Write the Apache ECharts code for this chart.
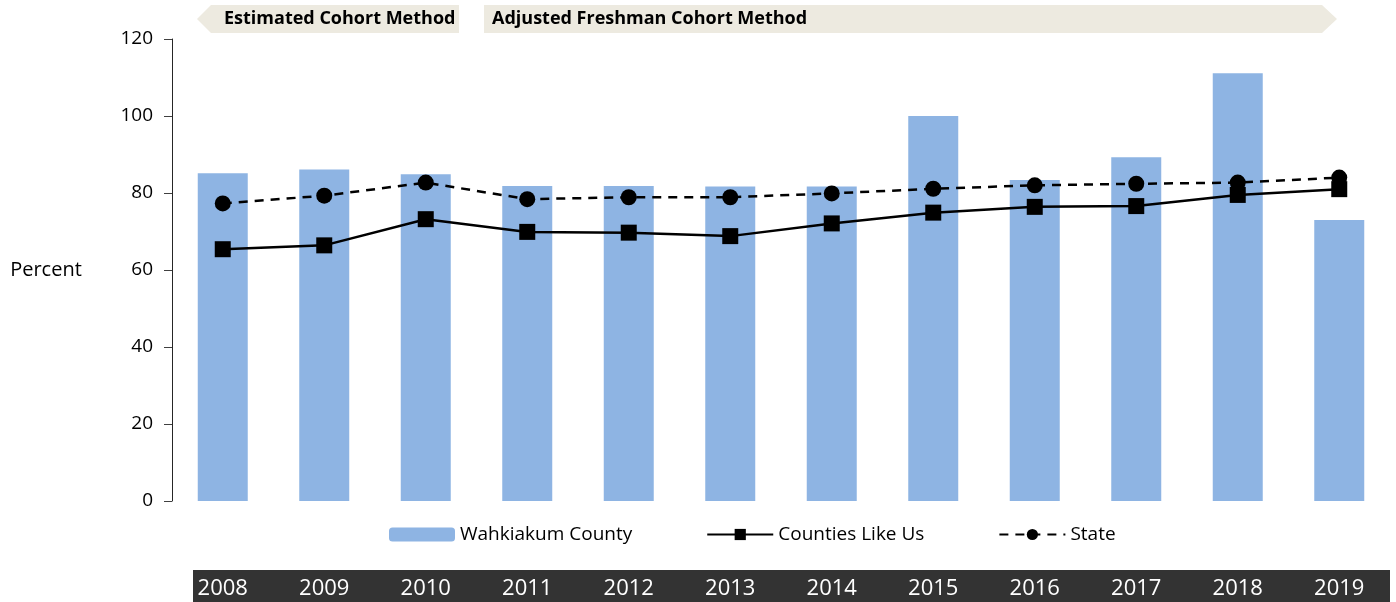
<!DOCTYPE html>
<html>
<head>
<meta charset="utf-8">
<script src="https://cdn.jsdelivr.net/npm/echarts@6/dist/echarts.min.js"></script>
<style>
  html, body { margin: 0; padding: 0; background: #fff; }
  #chart { width: 1396px; height: 602px; }
</style>
</head>
<body>
<div id="chart"></div>
<script>
var years = ["2008", "2009", "2010", "2011", "2012", "2013", "2014", "2015", "2016", "2017", "2018", "2019"];
var countyData = [85.1, 86.1, 84.9, 81.8, 81.8, 81.7, 81.7, 100, 83.4, 89.3, 111.1, 73];
var likeUsData = [65.4, 66.4, 73.2, 69.9, 69.7, 68.8, 72.1, 74.9, 76.4, 76.6, 79.5, 81.0];
var stateData = [77.3, 79.3, 82.7, 78.4, 78.9, 78.9, 79.9, 81.1, 82.0, 82.4, 82.7, 84.0];
var yTicks = [0, 20, 40, 60, 80, 100, 120];

var fontFam = "'Open Sans', 'Noto Sans', sans-serif";
var myChart = echarts.init(document.getElementById("chart"));

var option = {
  animation: false,
  textStyle: { fontFamily: fontFam },
  grid: { left: 172, right: 6, top: 39, bottom: 101 },
  legend: {
    top: 520,
    left: 384,
    itemWidth: 66,
    itemHeight: 14,
    itemGap: 74,
    textStyle: { fontSize: 19, color: "#000", fontFamily: fontFam },
    data: ["Wahkiakum County", "Counties Like Us", "State"]
  },
  xAxis: {
    type: "category",
    data: years,
    axisLine: { show: false },
    axisTick: { show: false },
    axisLabel: { color: "#fff", fontSize: 22, margin: 77, fontFamily: fontFam }
  },
  yAxis: {
    type: "value",
    min: yTicks[0],
    max: yTicks[yTicks.length - 1],
    interval: 20,
    name: "Percent",
    nameLocation: "middle",
    nameRotate: 0,
    nameGap: 126,
    nameTextStyle: { fontSize: 20, color: "#000", align: "center" },
    axisLine: { show: true, lineStyle: { color: "#262626", width: 1 } },
    axisTick: { show: true, length: 8, lineStyle: { color: "#404040" } },
    axisLabel: { color: "#000", fontSize: 19, margin: 19 },
    splitLine: { show: false }
  },
  graphic: [
    {
      type: "rect", z: -1,
      shape: { x: 193, y: 570, width: 1197, height: 32 },
      style: { fill: "#333333" }
    },
    {
      type: "polygon",
      shape: { points: [[197, 19], [211, 5], [459, 5], [459, 33], [211, 33]] },
      style: { fill: "#EDEAE0" }
    },
    {
      type: "polygon",
      shape: { points: [[484, 5], [1322, 5], [1337, 19], [1322, 33], [484, 33]] },
      style: { fill: "#EDEAE0" }
    },
    {
      type: "text", left: 224, top: 10,
      style: { text: "Estimated Cohort Method", fontSize: 18, fontWeight: "bold", fill: "#000", fontFamily: fontFam }
    },
    {
      type: "text", left: 492, top: 10,
      style: { text: "Adjusted Freshman Cohort Method", fontSize: 18, fontWeight: "bold", fill: "#000", fontFamily: fontFam }
    }
  ],
  series: [
    {
      name: "Wahkiakum County",
      type: "bar",
      barWidth: 50,
      itemStyle: { color: "#8EB4E3" },
      data: countyData
    },
    {
      name: "Counties Like Us",
      type: "line",
      symbol: "rect",
      symbolSize: 16,
      itemStyle: { color: "#000" },
      lineStyle: { color: "#000", width: 2.5 },
      data: likeUsData
    },
    {
      name: "State",
      type: "line",
      symbol: "circle",
      symbolSize: 16,
      itemStyle: { color: "#000" },
      lineStyle: { color: "#000", width: 2.5, type: [9, 7] },
      data: stateData
    }
  ]
};

myChart.setOption(option);
</script>
</body>
</html>
